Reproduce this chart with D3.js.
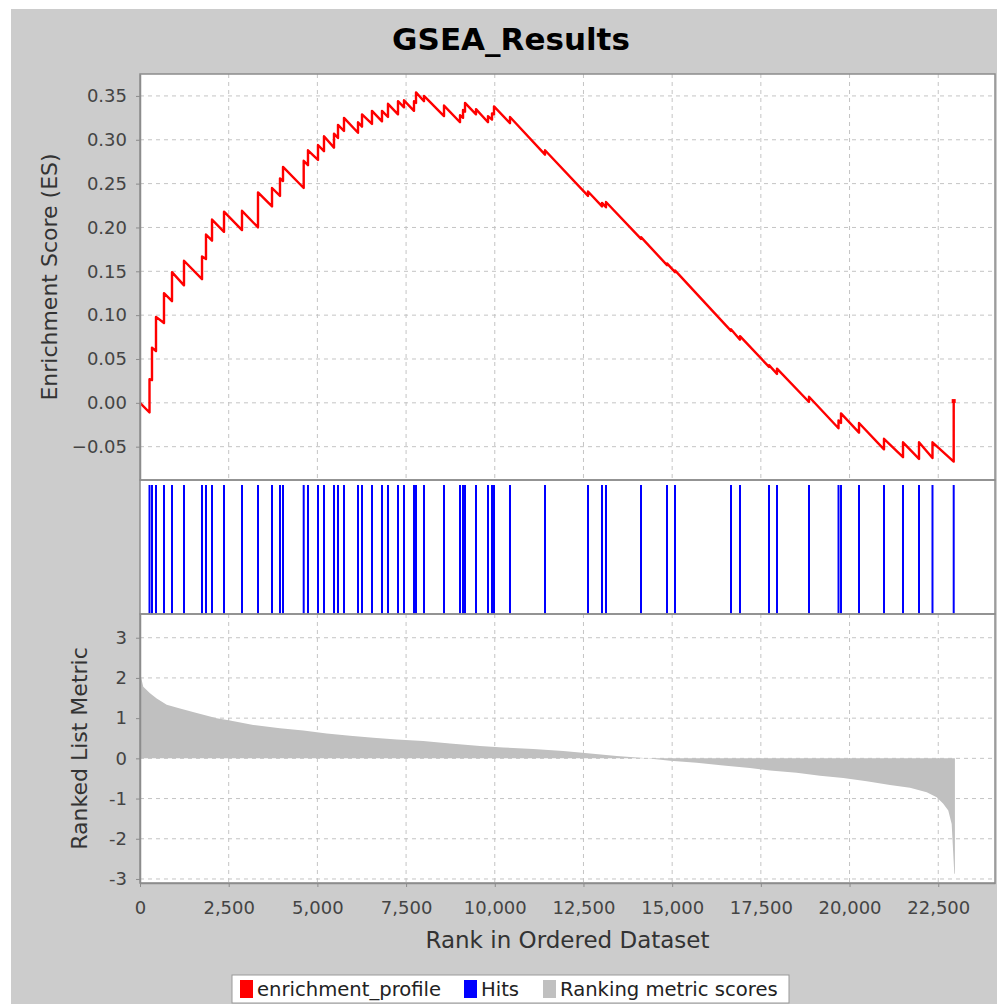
<!DOCTYPE html>
<html>
<head>
<meta charset="utf-8">
<script src="https://cdn.jsdelivr.net/npm/d3@7"></script>
<style>
body { margin: 0; background: #fff; }
svg text { font-family: "DejaVu Sans", sans-serif; }
</style>
</head>
<body>
<div id="chart"></div>
<script>
// positions of the gene-set members in the ranked list
const hitRanks = [268, 338, 451, 676, 902, 1240, 1748, 1860, 2030, 2368, 2875, 3326, 3721, 3946, 4031,
	4614, 4735, 5017, 5186, 5468, 5581, 5750, 6145, 6258, 6539, 6821, 6990, 7272, 7441, 7723, 7780,
	8005, 8569, 9020, 9105, 9161, 9471, 9809, 9922, 9978, 10429, 11416, 12628, 13023, 13135, 14122,
	14855, 15080, 16658, 16912, 17730, 17955, 18857, 19689, 19759, 20267, 20971, 21507, 21958, 22338, 22936];
// running enrichment score just before / just after each hit
const esBefore = [-0.011, 0.026, 0.059, 0.091, 0.116, 0.134, 0.141, 0.164, 0.185, 0.195, 0.197, 0.200, 0.224, 0.236, 0.253,
	0.245, 0.271, 0.277, 0.287, 0.291, 0.302, 0.310, 0.308, 0.315, 0.318, 0.321, 0.326, 0.329, 0.337, 0.333, 0.342,
	0.344, 0.327, 0.320, 0.325, 0.332, 0.329, 0.320, 0.323, 0.329, 0.319, 0.283, 0.236, 0.224, 0.223, 0.187,
	0.157, 0.149, 0.082, 0.072, 0.041, 0.033, 0.001, -0.029, -0.023, -0.034, -0.053, -0.062, -0.064, -0.063, -0.067];
const esAfter = [0.027, 0.063, 0.098, 0.125, 0.149, 0.162, 0.167, 0.192, 0.209, 0.218, 0.219, 0.240, 0.245, 0.256, 0.269,
	0.276, 0.288, 0.294, 0.304, 0.307, 0.317, 0.325, 0.320, 0.329, 0.333, 0.333, 0.341, 0.344, 0.345, 0.344, 0.354,
	0.350, 0.339, 0.328, 0.334, 0.342, 0.335, 0.327, 0.330, 0.338, 0.326, 0.288, 0.241, 0.228, 0.229, 0.189,
	0.159, 0.151, 0.084, 0.076, 0.043, 0.039, 0.007, -0.020, -0.012, -0.023, -0.041, -0.045, -0.045, -0.045, 0.002];
// ranked list metric, sampled along the list
const metricRanks = [0, 20, 93, 282, 471, 753, 1127, 1598, 2162, 2537, 3194, 3946, 4603, 5263, 5919, 6576, 7236,
	7985, 8738, 9584, 10240, 11086, 11932, 12543, 13437, 14291, 14939, 15692, 16442, 17194, 17758, 18510,
	19167, 19824, 20484, 21140, 21704, 22175, 22457, 22642, 22783, 22879, 22953, 22970];
const metricValues = [2.11, 2.05, 1.78, 1.62, 1.49, 1.33, 1.24, 1.13, 1.00, 0.94, 0.83, 0.75, 0.69, 0.62, 0.56, 0.51, 0.47,
	0.43, 0.37, 0.31, 0.27, 0.23, 0.18, 0.13, 0.06, 0.00, -0.06, -0.11, -0.18, -0.24, -0.30, -0.36,
	-0.43, -0.49, -0.57, -0.66, -0.73, -0.84, -0.97, -1.13, -1.30, -1.63, -2.87, -2.87];
const rankTicks = [0, 2500, 5000, 7500, 10000, 12500, 15000, 17500, 20000, 22500];
const esTicks = [-0.05, 0, 0.05, 0.10, 0.15, 0.20, 0.25, 0.30, 0.35];
const metricTicks = [-3, -2, -1, 0, 1, 2, 3];
const legendLabels = ['enrichment_profile', 'Hits', 'Ranking metric scores'];
const legendColors = ['#ff0000', '#0000ff', '#c0c0c0'];

const width = 997, height = 1004;
const plotLeft = 140, plotRight = 995;
const esTop = 74, esBottom = 480;
const hitTop = 480, hitBottom = 614;
const metTop = 614, metBottom = 883;
const gridColor = '#c4c4c4';
const borderColor = '#8c8c8c';

const svg = d3.select('#chart')
	.append('svg')
	.attr('width', width)
	.attr('height', height);

svg.append('rect')
	.attr('x', 11).attr('y', 9)
	.attr('width', width - 11).attr('height', height - 9)
	.attr('fill', '#cccccc');

const x = d3.scaleLinear().domain([0, 24100]).range([plotLeft, plotRight]);
const yES = d3.scaleLinear().domain([-0.088, 0.375]).range([esBottom, esTop]);
const yMet = d3.scaleLinear().domain([-3.1, 3.59]).range([metBottom, metTop]);

// panel backgrounds
[[esTop, esBottom], [hitTop, hitBottom], [metTop, metBottom]].forEach(p => {
	svg.append('rect')
		.attr('x', plotLeft).attr('y', p[0])
		.attr('width', plotRight - plotLeft).attr('height', p[1] - p[0])
		.attr('fill', '#fff');
});

// grids
function vGrid(top, bottom) {
	svg.append('g').selectAll('line')
		.data(rankTicks.filter(d => d > 0))
		.join('line')
		.attr('x1', d => x(d)).attr('x2', d => x(d))
		.attr('y1', top).attr('y2', bottom)
		.attr('stroke', gridColor).attr('stroke-dasharray', '4,4');
}
function hGrid(ticks, scale) {
	svg.append('g').selectAll('line')
		.data(ticks)
		.join('line')
		.attr('x1', plotLeft).attr('x2', plotRight)
		.attr('y1', d => scale(d)).attr('y2', d => scale(d))
		.attr('stroke', gridColor).attr('stroke-dasharray', '4,4');
}
vGrid(esTop, esBottom);
hGrid(esTicks, yES);
vGrid(metTop, metBottom);
hGrid(metricTicks, yMet);

// ranked list metric
const area = d3.area()
	.x((d, i) => x(metricRanks[i]))
	.y0(yMet(0))
	.y1(d => yMet(d));
svg.append('path')
	.datum(metricValues)
	.attr('d', area)
	.attr('fill', '#c0c0c0');

// hits
svg.append('g').selectAll('line')
	.data(hitRanks)
	.join('line')
	.attr('x1', d => x(d)).attr('x2', d => x(d))
	.attr('y1', hitTop + 5).attr('y2', hitBottom)
	.attr('stroke', '#0000ff')
	.attr('stroke-width', 2);

// enrichment profile
const esPoints = [[0, 0]];
hitRanks.forEach((r, i) => {
	esPoints.push([r, esBefore[i]]);
	esPoints.push([r, esAfter[i]]);
});
svg.append('path')
	.datum(esPoints)
	.attr('d', d3.line().x(d => x(d[0])).y(d => yES(d[1])))
	.attr('fill', 'none')
	.attr('stroke', '#ff0000')
	.attr('stroke-width', 2.4)
	.attr('stroke-linejoin', 'round');

const lastPt = esPoints[esPoints.length - 1];
svg.append('rect')
	.attr('x', x(lastPt[0]) - 2).attr('y', yES(lastPt[1]) - 2)
	.attr('width', 4).attr('height', 4)
	.attr('fill', '#ff0000');

// panel borders
[[esTop, esBottom], [hitTop, hitBottom], [metTop, metBottom]].forEach(p => {
	svg.append('rect')
		.attr('x', plotLeft).attr('y', p[0])
		.attr('width', plotRight - plotLeft).attr('height', p[1] - p[0])
		.attr('fill', 'none')
		.attr('stroke', borderColor)
		.attr('stroke-width', 1.5);
});

// axes
function styleAxis(g) {
	g.select('.domain').attr('stroke', borderColor).attr('stroke-width', 1.5);
	g.selectAll('.tick line').attr('stroke', borderColor);
	g.selectAll('.tick text')
		.attr('fill', '#444')
		.style('font-size', '18px')
		.style('font-family', '"DejaVu Sans", sans-serif');
}

svg.append('g')
	.attr('transform', `translate(${plotLeft}, 0)`)
	.call(d3.axisLeft(yES).tickValues(esTicks).tickFormat(d3.format('.2f')).tickSize(4).tickPadding(9).tickSizeOuter(0))
	.call(styleAxis);

svg.append('g')
	.attr('transform', `translate(${plotLeft}, 0)`)
	.call(d3.axisLeft(yMet).tickValues(metricTicks).tickFormat(d => String(d)).tickSize(4).tickPadding(9).tickSizeOuter(0))
	.call(styleAxis);

svg.append('g')
	.attr('transform', `translate(0, ${metBottom})`)
	.call(d3.axisBottom(x).tickValues(rankTicks).tickFormat(d3.format(',')).tickSize(4).tickPadding(14).tickSizeOuter(0))
	.call(styleAxis);

// titles
svg.append('text')
	.attr('x', 511).attr('y', 50)
	.attr('text-anchor', 'middle')
	.style('font-size', '31px')
	.style('font-weight', 'bold')
	.attr('fill', '#000')
	.text('GSEA_Results');

svg.append('text')
	.attr('transform', `translate(57, ${(esTop + esBottom) / 2}) rotate(-90)`)
	.attr('text-anchor', 'middle')
	.style('font-size', '22px')
	.attr('fill', '#333')
	.text('Enrichment Score (ES)');

svg.append('text')
	.attr('transform', `translate(87, ${(metTop + metBottom) / 2}) rotate(-90)`)
	.attr('text-anchor', 'middle')
	.style('font-size', '22px')
	.attr('fill', '#333')
	.text('Ranked List Metric');

svg.append('text')
	.attr('x', (plotLeft + plotRight) / 2).attr('y', 948)
	.attr('text-anchor', 'middle')
	.style('font-size', '23px')
	.attr('fill', '#333')
	.text('Rank in Ordered Dataset');

// legend
const legend = svg.append('g');
legend.append('rect')
	.attr('x', 232).attr('y', 975)
	.attr('width', 557).attr('height', 28)
	.attr('fill', '#fff')
	.attr('stroke', '#999');
const itemX = [240, 464, 543];
legendLabels.forEach((label, i) => {
	legend.append('rect')
		.attr('x', itemX[i]).attr('y', 980)
		.attr('width', 13).attr('height', 18)
		.attr('fill', legendColors[i]);
	legend.append('text')
		.attr('x', itemX[i] + 17).attr('y', 996)
		.style('font-size', '19.6px')
		.attr('fill', '#222')
		.text(label);
});
</script>
</body>
</html>
